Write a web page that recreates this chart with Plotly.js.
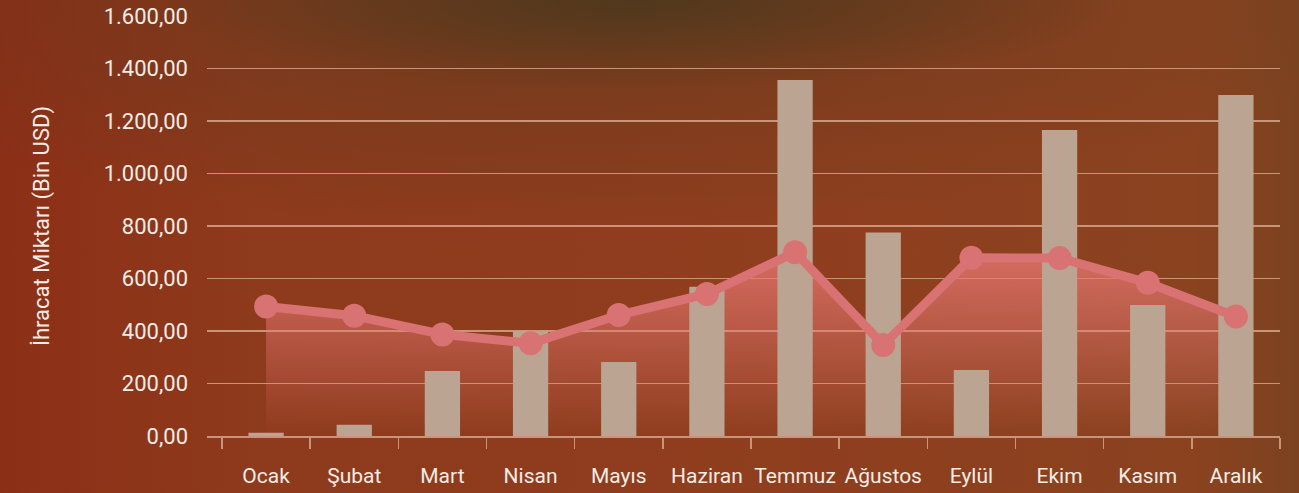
<!DOCTYPE html>
<html>
<head>
<meta charset="utf-8">
<script src="https://cdn.plot.ly/plotly-3.0.1.min.js"></script>
<style>
html, body { margin:0; padding:0; width:1299px; height:493px; overflow:hidden; }
body {
  background:
    radial-gradient(ellipse 480px 90px at 640px 0px, rgba(70,55,28,0.75), rgba(70,55,28,0) 100%),
    radial-gradient(ellipse 800px 230px at 560px 0px, rgba(85,58,30,0.55), rgba(85,58,30,0) 100%),
    linear-gradient(90deg, #8c2f17 0%, #8e3a1c 20%, #8f3e1e 60%, #8a421f 92%, #7c4220 100%);
}
#chart { width:1299px; height:493px; }
</style>
</head>
<body>
<div id="chart"></div>
<script>
const months = ["Ocak","Şubat","Mart","Nisan","Mayıs","Haziran","Temmuz","Ağustos","Eylül","Ekim","Kasım","Aralık"];
const barValues = [12, 43, 248, 400, 282, 569, 1356, 775, 251, 1166, 499, 1299];
const lineValues = [493, 458, 387, 353, 461, 541, 700, 347, 679, 678, 584, 455];
const yTicks = [0, 200, 400, 600, 800, 1000, 1200, 1400, 1600];

const lineColor = "#d97272";
const barColor = "#bba592";
const gridColor = "#c8957a";
const textColor = "#f3ece6";
const xRange = [-0.67, 11.5];

const traces = [
  {
    type: "scatter", mode: "none", x: months, y: lineValues,
    xaxis: "x", yaxis: "y",
    fill: "tozeroy",
    fillgradient: {
      type: "vertical", start: 0, stop: 700,
      colorscale: [[0, "rgba(232,120,115,0)"], [0.35, "rgba(232,120,115,0.28)"], [1, "rgba(232,120,115,0.8)"]]
    },
    hoverinfo: "skip", showlegend: false
  },
  {
    type: "bar", x: months, y: barValues, xaxis: "x2", yaxis: "y2",
    width: 0.4, marker: { color: barColor }, showlegend: false
  },
  {
    type: "scatter", mode: "lines+markers", x: months, y: lineValues,
    xaxis: "x2", yaxis: "y2",
    line: { color: lineColor, width: 9 },
    marker: { color: lineColor, size: 24 },
    showlegend: false
  }
];

const layout = {
  width: 1299, height: 493,
  paper_bgcolor: "rgba(0,0,0,0)", plot_bgcolor: "rgba(0,0,0,0)",
  margin: { l: 207, r: 19, t: 16, b: 57 },
  separators: ",.",
  font: { family: "Roboto, sans-serif", color: textColor, size: 22 },
  xaxis: {
    type: "category", categoryorder: "array", categoryarray: months,
    range: xRange, showgrid: false, zeroline: false,
    showline: true, linecolor: gridColor, linewidth: 1.5,
    ticks: "outside", tickson: "boundaries", ticklen: 11, tickwidth: 1.5, tickcolor: gridColor,
    tickangle: 0,
    tickfont: { size: 21, color: textColor }, ticklabelstandoff: 20,
    fixedrange: true
  },
  yaxis: {
    range: [0, 1600], tickvals: yTicks, tickformat: ",.2f",
    showgrid: true, gridcolor: gridColor, gridwidth: 1.3, zeroline: false,
    showline: false, ticks: "", ticklabelstandoff: 18,
    tickfont: { size: 22, color: textColor },
    title: { text: "İhracat Miktarı (Bin USD)", font: { size: 22, color: textColor }, standoff: 47 },
    fixedrange: true
  },
  xaxis2: {
    type: "category", categoryorder: "array", categoryarray: months,
    range: xRange, overlaying: "x", visible: false, fixedrange: true
  },
  yaxis2: {
    range: [0, 1600], overlaying: "y", visible: false, fixedrange: true
  },
  bargap: 0.6
};

Plotly.newPlot("chart", traces, layout, { displayModeBar: false, staticPlot: true });
</script>
</body>
</html>
